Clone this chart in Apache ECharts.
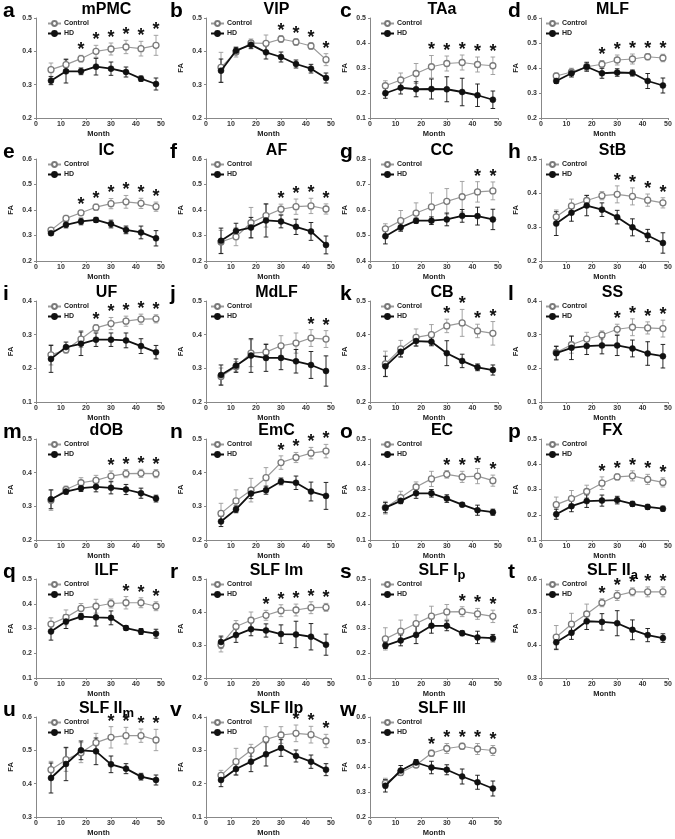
<!DOCTYPE html>
<html><head><meta charset="utf-8">
<script src="https://cdn.jsdelivr.net/npm/echarts@6/dist/echarts.min.js"></script>
<style>html,body{margin:0;padding:0;background:#fff}#c{width:675px;height:839px}</style>
</head><body><div id="c"></div>
<script>
const months = [6, 12, 18, 24, 30, 36, 42, 48];
const letters = ['a','b','c','d','e','f','g','h','i','j','k','l','m','n','o','p','q','r','s','t','u','v','w'];
const titleMain = ['mPMC','VIP','TAa','MLF','IC','AF','CC','StB','UF','MdLF','CB','SS','dOB','EmC','EC','FX','ILF','SLF Im','SLF I','SLF II','SLF II','SLF IIp','SLF III'];
const titleSub  = ['','','','','','','','','','','','','','','','','','','p','a','m','',''];
const yMins = [0.2,0.2,0.1,0.2, 0.2,0.2,0.4,0.2, 0.1,0.2,0.2,0.1, 0.2,0.2,0.1,0.1, 0.1,0.2,0.1,0.3, 0.3,0.1,0.2];
const yMaxs = [0.5,0.5,0.5,0.6, 0.6,0.6,0.8,0.5, 0.4,0.5,0.5,0.4, 0.5,0.5,0.5,0.5, 0.5,0.5,0.5,0.6, 0.6,0.4,0.6];

// a mPMC
const mPMC_ctrl = [0.345,0.36,0.378,0.40,0.407,0.413,0.408,0.418];
const mPMC_ctrlSE = [0.02,0.018,0.01,0.018,0.018,0.02,0.022,0.03];
const mPMC_hd = [0.312,0.34,0.34,0.354,0.348,0.338,0.318,0.302];
const mPMC_hdSE = [0.012,0.035,0.01,0.025,0.02,0.015,0.008,0.018];
const mPMC_sig = [18,24,30,36,42,48];
// b VIP
const VIP_ctrl = [0.352,0.398,0.425,0.424,0.437,0.428,0.416,0.375];
const VIP_ctrlSE = [0.045,0.015,0.012,0.025,0.01,0.01,0.01,0.018];
const VIP_hd = [0.342,0.402,0.42,0.397,0.383,0.362,0.348,0.32];
const VIP_hdSE = [0.035,0.01,0.012,0.02,0.015,0.012,0.013,0.015];
const VIP_sig = [30,36,42,48];
// c TAa
const TAa_ctrl = [0.229,0.252,0.278,0.305,0.318,0.322,0.314,0.309];
const TAa_ctrlSE = [0.02,0.028,0.04,0.045,0.03,0.03,0.03,0.035];
const TAa_hd = [0.199,0.221,0.215,0.216,0.215,0.204,0.191,0.173];
const TAa_hdSE = [0.02,0.025,0.03,0.04,0.05,0.055,0.045,0.035];
const TAa_sig = [24,30,36,42,48];
// d MLF
const MLF_ctrl = [0.368,0.384,0.405,0.415,0.432,0.436,0.445,0.44];
const MLF_ctrlSE = [0.012,0.015,0.015,0.015,0.02,0.02,0.012,0.015];
const MLF_hd = [0.348,0.379,0.405,0.379,0.382,0.38,0.348,0.33];
const MLF_hdSE = [0.01,0.015,0.018,0.02,0.015,0.012,0.03,0.03];
const MLF_sig = [24,30,36,42,48];
// e IC
const IC_ctrl = [0.321,0.367,0.389,0.411,0.425,0.432,0.426,0.413];
const IC_ctrlSE = [0.01,0.012,0.01,0.012,0.02,0.025,0.02,0.018];
const IC_hd = [0.309,0.342,0.355,0.361,0.345,0.322,0.312,0.289];
const IC_hdSE = [0.008,0.012,0.013,0.01,0.015,0.015,0.025,0.03];
const IC_sig = [18,24,30,36,42,48];
// f AF
const AF_ctrl = [0.275,0.295,0.35,0.378,0.403,0.413,0.416,0.404];
const AF_ctrlSE = [0.045,0.035,0.06,0.045,0.02,0.03,0.03,0.02];
const AF_hd = [0.279,0.318,0.331,0.359,0.355,0.334,0.316,0.263];
const AF_hdSE = [0.05,0.03,0.04,0.065,0.025,0.03,0.035,0.035];
const AF_sig = [30,36,42,48];
// g CC
const CC_ctrl = [0.526,0.558,0.588,0.612,0.634,0.652,0.671,0.675];
const CC_ctrlSE = [0.02,0.04,0.04,0.055,0.05,0.06,0.04,0.035];
const CC_hd = [0.497,0.532,0.558,0.558,0.563,0.577,0.576,0.563];
const CC_hdSE = [0.03,0.015,0.01,0.015,0.025,0.025,0.035,0.04];
const CC_sig = [42,48];
// h StB
const StB_ctrl = [0.33,0.362,0.378,0.392,0.396,0.39,0.379,0.371];
const StB_ctrlSE = [0.02,0.02,0.015,0.012,0.025,0.025,0.018,0.015];
const StB_hd = [0.31,0.342,0.363,0.351,0.329,0.299,0.275,0.253];
const StB_hdSE = [0.035,0.025,0.03,0.02,0.02,0.025,0.018,0.03];
const StB_sig = [30,36,42,48];
// i UF
const UF_ctrl = [0.24,0.255,0.287,0.32,0.333,0.34,0.346,0.347];
const UF_ctrlSE = [0.03,0.01,0.025,0.01,0.018,0.015,0.015,0.012];
const UF_hd = [0.228,0.263,0.273,0.285,0.285,0.283,0.266,0.248];
const UF_hdSE = [0.04,0.015,0.035,0.02,0.02,0.022,0.022,0.02];
const UF_sig = [24,30,36,42,48];
// j MdLF
const MdLF_ctrl = [0.276,0.305,0.345,0.348,0.367,0.375,0.39,0.387];
const MdLF_ctrlSE = [0.025,0.015,0.04,0.025,0.03,0.03,0.025,0.025];
const MdLF_hd = [0.28,0.308,0.338,0.331,0.331,0.321,0.31,0.292];
const MdLF_hdSE = [0.03,0.02,0.05,0.04,0.035,0.035,0.04,0.045];
const MdLF_sig = [42,48];
// k CB
const CB_ctrl = [0.313,0.358,0.392,0.40,0.426,0.435,0.411,0.404];
const CB_ctrlSE = [0.038,0.025,0.025,0.03,0.02,0.04,0.02,0.035];
const CB_hd = [0.306,0.349,0.381,0.379,0.345,0.322,0.303,0.295];
const CB_hdSE = [0.03,0.015,0.015,0.012,0.037,0.02,0.01,0.015];
const CB_sig = [30,36,42,48];
// l SS
const SS_ctrl = [0.247,0.27,0.287,0.299,0.316,0.322,0.32,0.318];
const SS_ctrlSE = [0.02,0.025,0.02,0.012,0.015,0.025,0.018,0.025];
const SS_hd = [0.245,0.261,0.266,0.268,0.268,0.259,0.244,0.236];
const SS_hdSE = [0.02,0.035,0.025,0.025,0.03,0.025,0.035,0.035];
const SS_sig = [30,36,42,48];
// m dOB
const dOB_ctrl = [0.318,0.35,0.37,0.377,0.39,0.397,0.398,0.397];
const dOB_ctrlSE = [0.03,0.01,0.015,0.015,0.015,0.012,0.012,0.012];
const dOB_hd = [0.321,0.344,0.354,0.358,0.355,0.35,0.339,0.323];
const dOB_hdSE = [0.028,0.008,0.01,0.015,0.018,0.015,0.015,0.01];
const dOB_sig = [30,36,42,48];
// n EmC
const EmC_ctrl = [0.279,0.316,0.348,0.385,0.43,0.445,0.458,0.464];
const EmC_ctrlSE = [0.03,0.033,0.035,0.03,0.02,0.015,0.017,0.02];
const EmC_hd = [0.255,0.291,0.338,0.348,0.374,0.37,0.344,0.331];
const EmC_hdSE = [0.015,0.01,0.015,0.012,0.01,0.02,0.028,0.04];
const EmC_sig = [30,36,42,48];
// o EC
const EC_ctrl = [0.228,0.268,0.31,0.342,0.36,0.35,0.353,0.335];
const EC_ctrlSE = [0.025,0.025,0.02,0.03,0.015,0.022,0.03,0.022];
const EC_hd = [0.228,0.255,0.285,0.285,0.264,0.24,0.218,0.21];
const EC_hdSE = [0.02,0.01,0.02,0.015,0.015,0.008,0.02,0.012];
const EC_sig = [30,36,42,48];
// p FX
const FX_ctrl = [0.24,0.264,0.292,0.325,0.35,0.354,0.34,0.328];
const FX_ctrlSE = [0.03,0.032,0.025,0.025,0.012,0.02,0.02,0.018];
const FX_hd = [0.202,0.234,0.254,0.256,0.258,0.243,0.231,0.224];
const FX_hdSE = [0.02,0.022,0.025,0.022,0.015,0.01,0.01,0.01];
const FX_sig = [24,30,36,42,48];
// q ILF
const ILF_ctrl = [0.318,0.345,0.381,0.39,0.401,0.404,0.404,0.39];
const ILF_ctrlSE = [0.025,0.03,0.02,0.028,0.018,0.025,0.02,0.018];
const ILF_hd = [0.288,0.328,0.348,0.345,0.343,0.302,0.288,0.279];
const ILF_hdSE = [0.035,0.028,0.012,0.035,0.028,0.01,0.012,0.018];
const ILF_sig = [36,42,48];
// r SLF Im
const SLFIm_ctrl = [0.301,0.356,0.375,0.39,0.404,0.406,0.413,0.414];
const SLFIm_ctrlSE = [0.022,0.018,0.025,0.015,0.018,0.018,0.018,0.012];
const SLFIm_hd = [0.309,0.33,0.348,0.344,0.333,0.332,0.325,0.301];
const SLFIm_hdSE = [0.018,0.022,0.02,0.02,0.028,0.04,0.04,0.032];
const SLFIm_sig = [24,30,36,42,48];
// s SLF Ip
const SLFIp_ctrl = [0.258,0.289,0.32,0.35,0.367,0.368,0.359,0.349];
const SLFIp_ctrlSE = [0.045,0.045,0.035,0.04,0.03,0.02,0.022,0.025];
const SLFIp_hd = [0.231,0.252,0.274,0.311,0.311,0.281,0.264,0.261];
const SLFIp_hdSE = [0.012,0.022,0.035,0.03,0.02,0.01,0.025,0.015];
const SLFIp_sig = [36,42,48];
// t SLF IIa
const SLFIIa_ctrl = [0.424,0.463,0.494,0.528,0.55,0.561,0.561,0.561];
const SLFIIa_ctrlSE = [0.035,0.033,0.03,0.012,0.015,0.012,0.015,0.015];
const SLFIIa_hd = [0.408,0.437,0.472,0.47,0.466,0.446,0.43,0.421];
const SLFIIa_hdSE = [0.022,0.02,0.025,0.025,0.038,0.03,0.02,0.013];
const SLFIIa_sig = [24,30,36,42,48];
// u SLF IIm
const SLFIIm_ctrl = [0.442,0.472,0.493,0.523,0.539,0.544,0.544,0.531];
const SLFIIm_ctrlSE = [0.025,0.035,0.03,0.028,0.032,0.025,0.02,0.032];
const SLFIIm_hd = [0.417,0.459,0.5,0.497,0.458,0.445,0.421,0.411];
const SLFIIm_hdSE = [0.045,0.05,0.028,0.04,0.025,0.015,0.01,0.015];
const SLFIIm_sig = [30,36,42,48];
// v SLF IIp
const SLFIIp_ctrl = [0.225,0.266,0.3,0.333,0.346,0.351,0.347,0.328];
const SLFIIp_ctrlSE = [0.015,0.04,0.018,0.038,0.025,0.025,0.025,0.02];
const SLFIIp_hd = [0.211,0.244,0.266,0.288,0.307,0.283,0.266,0.242];
const SLFIIp_hdSE = [0.02,0.018,0.03,0.035,0.025,0.018,0.02,0.018];
const SLFIIp_sig = [36,42,48];
// w SLF III
const SLFIII_ctrl = [0.335,0.378,0.408,0.455,0.474,0.483,0.472,0.466];
const SLFIII_ctrlSE = [0.02,0.01,0.01,0.012,0.02,0.012,0.022,0.02];
const SLFIII_hd = [0.325,0.386,0.418,0.398,0.389,0.362,0.339,0.314];
const SLFIII_hdSE = [0.025,0.02,0.012,0.025,0.02,0.03,0.028,0.03];
const SLFIII_sig = [24,30,36,42,48];

const panelData = [
  [mPMC_ctrl, mPMC_ctrlSE, mPMC_hd, mPMC_hdSE, mPMC_sig],
  [VIP_ctrl, VIP_ctrlSE, VIP_hd, VIP_hdSE, VIP_sig],
  [TAa_ctrl, TAa_ctrlSE, TAa_hd, TAa_hdSE, TAa_sig],
  [MLF_ctrl, MLF_ctrlSE, MLF_hd, MLF_hdSE, MLF_sig],
  [IC_ctrl, IC_ctrlSE, IC_hd, IC_hdSE, IC_sig],
  [AF_ctrl, AF_ctrlSE, AF_hd, AF_hdSE, AF_sig],
  [CC_ctrl, CC_ctrlSE, CC_hd, CC_hdSE, CC_sig],
  [StB_ctrl, StB_ctrlSE, StB_hd, StB_hdSE, StB_sig],
  [UF_ctrl, UF_ctrlSE, UF_hd, UF_hdSE, UF_sig],
  [MdLF_ctrl, MdLF_ctrlSE, MdLF_hd, MdLF_hdSE, MdLF_sig],
  [CB_ctrl, CB_ctrlSE, CB_hd, CB_hdSE, CB_sig],
  [SS_ctrl, SS_ctrlSE, SS_hd, SS_hdSE, SS_sig],
  [dOB_ctrl, dOB_ctrlSE, dOB_hd, dOB_hdSE, dOB_sig],
  [EmC_ctrl, EmC_ctrlSE, EmC_hd, EmC_hdSE, EmC_sig],
  [EC_ctrl, EC_ctrlSE, EC_hd, EC_hdSE, EC_sig],
  [FX_ctrl, FX_ctrlSE, FX_hd, FX_hdSE, FX_sig],
  [ILF_ctrl, ILF_ctrlSE, ILF_hd, ILF_hdSE, ILF_sig],
  [SLFIm_ctrl, SLFIm_ctrlSE, SLFIm_hd, SLFIm_hdSE, SLFIm_sig],
  [SLFIp_ctrl, SLFIp_ctrlSE, SLFIp_hd, SLFIp_hdSE, SLFIp_sig],
  [SLFIIa_ctrl, SLFIIa_ctrlSE, SLFIIa_hd, SLFIIa_hdSE, SLFIIa_sig],
  [SLFIIm_ctrl, SLFIIm_ctrlSE, SLFIIm_hd, SLFIIm_hdSE, SLFIIm_sig],
  [SLFIIp_ctrl, SLFIIp_ctrlSE, SLFIIp_hd, SLFIIp_hdSE, SLFIIp_sig],
  [SLFIII_ctrl, SLFIII_ctrlSE, SLFIII_hd, SLFIII_hdSE, SLFIII_sig]
];

// ---- layout (pixels) ----
const colLeft = [36, 206, 370, 541];
const colRight = [161, 331, 498, 668];
const rowTop = [18, 159, 301, 439, 579, 717];
const rowBottom = [118, 261, 402, 540, 678, 817];
const letterX = [3, 170, 340, 508];
const legendOffset = [11, 4, 10, 4];

const FONT = '"Liberation Sans", Arial, Helvetica, sans-serif';
const GRAY = '#9a9a9a';
const GRAY_DARK = '#7a7a7a';
const BLACK = '#111';

function errRender(color) {
  return function (params, api) {
    const x = api.value(0), m = api.value(1), e = api.value(2);
    const t = api.coord([x, m + e]);
    const b = api.coord([x, m - e]);
    const w = 2.3;
    const st = { stroke: color, lineWidth: 0.9 };
    return { type: 'group', children: [
      { type: 'line', shape: { x1: t[0], y1: t[1], x2: b[0], y2: b[1] }, style: st },
      { type: 'line', shape: { x1: t[0] - w, y1: t[1], x2: t[0] + w, y2: t[1] }, style: st },
      { type: 'line', shape: { x1: b[0] - w, y1: b[1], x2: b[0] + w, y2: b[1] }, style: st }
    ]};
  };
}
function starRender(params, api) {
  const c = api.coord([api.value(0), api.value(1)]);
  return { type: 'text', x: c[0], y: c[1] + 4,
    style: { text: '*', fontSize: 18, fontWeight: 'bold', fontFamily: FONT, fill: BLACK,
             align: 'center', verticalAlign: 'bottom', textAlign: 'center', textVerticalAlign: 'bottom' } };
}

const grids = [], xAxes = [], yAxes = [], series = [], legends = [], graphics = [];
const axisLabelStyle = { fontSize: 7, fontWeight: 'bold', color: '#333', fontFamily: FONT };

for (let k = 0; k < panelData.length; k++) {
  const col = k % 4, row = Math.floor(k / 4);
  const [ctrl, ctrlSE, hd, hdSE, sig] = panelData[k];
  grids.push({ left: colLeft[col], top: rowTop[row], width: colRight[col] - colLeft[col], height: rowBottom[row] - rowTop[row] });
  xAxes.push({ gridIndex: k, type: 'value', min: 0, max: 50, interval: 10,
    name: 'Month', nameLocation: 'middle', nameGap: 12,
    nameTextStyle: { fontSize: 7.5, fontWeight: 'bold', color: '#222', fontFamily: FONT },
    axisLine: { lineStyle: { color: '#888', width: 1 } },
    axisTick: { length: 2, lineStyle: { color: '#888' } },
    axisLabel: Object.assign({ margin: 3 }, axisLabelStyle),
    splitLine: { show: false } });
  yAxes.push({ gridIndex: k, type: 'value', min: yMins[k], max: yMaxs[k], interval: 0.1,
    name: k === 0 ? '' : 'FA', nameLocation: 'middle', nameGap: 21, nameRotate: 90,
    nameTextStyle: { fontSize: 7.5, fontWeight: 'bold', color: '#222', fontFamily: FONT },
    axisLine: { show: true, lineStyle: { color: '#888', width: 1 } },
    axisTick: { show: true, length: 2, lineStyle: { color: '#888' } },
    axisLabel: Object.assign({ margin: 4, formatter: v => v.toFixed(1) }, axisLabelStyle),
    splitLine: { show: false } });

  series.push({ type: 'custom', name: 'ctrlErr', xAxisIndex: k, yAxisIndex: k, z: 1,
    renderItem: errRender(GRAY), data: months.map((m, i) => [m, ctrl[i], ctrlSE[i]]), silent: true });
  series.push({ type: 'custom', name: 'hdErr', xAxisIndex: k, yAxisIndex: k, z: 2,
    renderItem: errRender(BLACK), data: months.map((m, i) => [m, hd[i], hdSE[i]]), silent: true });
  series.push({ type: 'line', name: 'Control', xAxisIndex: k, yAxisIndex: k, z: 3,
    data: months.map((m, i) => [m, ctrl[i]]), symbol: 'circle', symbolSize: 6,
    lineStyle: { color: GRAY, width: 1.2 },
    itemStyle: { color: '#fff', borderColor: GRAY_DARK, borderWidth: 1.3 } });
  series.push({ type: 'line', name: 'HD', xAxisIndex: k, yAxisIndex: k, z: 4,
    data: months.map((m, i) => [m, hd[i]]), symbol: 'circle', symbolSize: 6,
    lineStyle: { color: BLACK, width: 1.8 },
    itemStyle: { color: BLACK, borderColor: BLACK, borderWidth: 0.5 } });
  series.push({ type: 'custom', name: 'sig', xAxisIndex: k, yAxisIndex: k, z: 5,
    renderItem: starRender,
    data: sig.map(m => { const i = months.indexOf(m); return [m, ctrl[i] + ctrlSE[i]]; }), silent: true });

  legends.push({ data: ['Control', 'HD'], orient: 'vertical', left: colLeft[col] + legendOffset[col], top: rowTop[row] + 2,
    itemWidth: 13, itemHeight: 6, itemGap: 3, padding: 0, selectedMode: false,
    textStyle: { fontSize: 7, fontWeight: 'bold', color: '#222', fontFamily: FONT, padding: [0, 0, 0, -2] } });

  // panel letter
  graphics.push({ type: 'text', x: letterX[col], y: rowTop[row] - 7,
    style: { text: letters[k], fontSize: 21, fontWeight: 'bold', fontFamily: FONT, fill: '#000',
             align: 'left', verticalAlign: 'middle', textAlign: 'left', textVerticalAlign: 'middle' } });
  // panel title
  const cx = (colLeft[col] + colRight[col]) / 2 + 8;
  const txt = titleSub[k] ? '{m|' + titleMain[k] + '}{s|' + titleSub[k] + '}' : '{m|' + titleMain[k] + '}';
  graphics.push({ type: 'text', x: cx, y: rowTop[row] - 7,
    style: { text: txt, fontFamily: FONT, fill: '#000', align: 'center', verticalAlign: 'middle',
             textAlign: 'center', textVerticalAlign: 'middle',
             rich: { m: { fontSize: 16, fontWeight: 'bold', fontFamily: FONT, lineHeight: 18, verticalAlign: 'top' },
                     s: { fontSize: 13, fontWeight: 'bold', fontFamily: FONT, lineHeight: 19.5, verticalAlign: 'bottom' } } } });
}

const chart = echarts.init(document.getElementById('c'), null, { renderer: 'canvas' });
chart.setOption({
  animation: false,
  backgroundColor: '#fff',
  grid: grids, xAxis: xAxes, yAxis: yAxes, series: series, legend: legends,
  graphic: { elements: graphics }
});
</script></body></html>
